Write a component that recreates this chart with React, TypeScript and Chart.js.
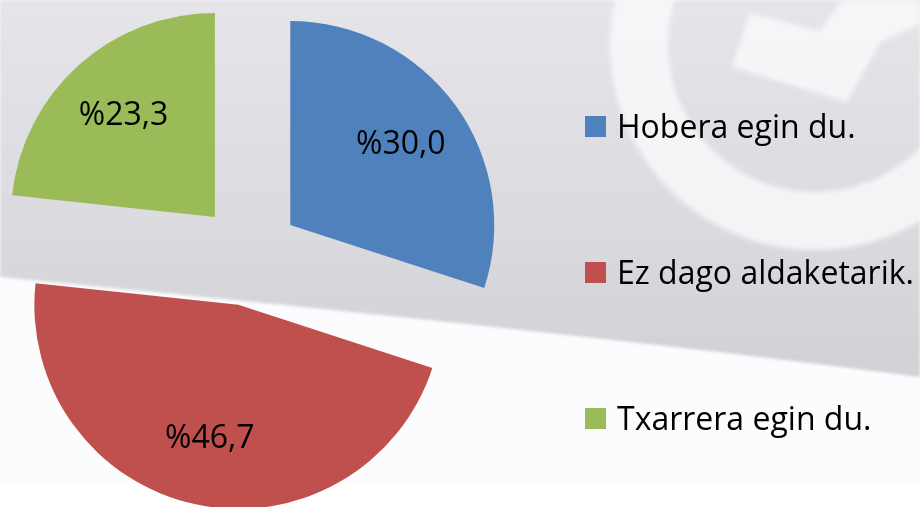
import React, { useEffect, useRef } from "react";
import { Chart, registerables, ArcElement, PieController } from "chart.js";

// ---- data ----
const categories = ["Hobera egin du.", "Ez dago aldaketarik.", "Txarrera egin du."];
const percentages = [30.0, 46.7, 23.3];
const sliceColors = ["#4f81bd", "#c0504d", "#9bbb59"];

// ---- styling ----
const FONT = "'Open Sans', sans-serif";
const PIE_RADIUS = 204;
const EXPLODE = 51; // px each slice is pulled out from the centre
const LABEL_RATIO = 0.67;

const formatPct = (v: number) => "%" + v.toFixed(1).replace(".", ",");

// Arc that is pulled out by a fixed distance along its mid angle, without
// Chart.js' built-in radius growth of the "offset" option.
class ExplodedArc extends ArcElement {
  static id = "explodedArc";
  static defaults = { ...(ArcElement as any).defaults, explode: 0 };
  draw(ctx: CanvasRenderingContext2D) {
    const self: any = this;
    const explode = self.options.explode || 0;
    const half = (self.startAngle + self.endAngle) / 2;
    ctx.save();
    ctx.translate(Math.cos(half) * explode, Math.sin(half) * explode);
    super.draw(ctx);
    ctx.restore();
  }
}

class ExplodedPieController extends PieController {
  static id = "explodedPie";
  static defaults = { ...(PieController as any).defaults, dataElementType: "explodedArc" };
}

Chart.register(...registerables, ExplodedArc as any, ExplodedPieController as any);

const sliceLabels = {
  id: "sliceLabels",
  afterDatasetsDraw(chart: any) {
    const ctx = chart.ctx;
    const meta = chart.getDatasetMeta(0);
    const data = chart.data.datasets[0].data as number[];
    ctx.save();
    ctx.font = `32px ${FONT}`;
    ctx.fillStyle = "#000000";
    ctx.textAlign = "center";
    ctx.textBaseline = "middle";
    meta.data.forEach((arc: any, i: number) => {
      const { x, y, startAngle, endAngle, outerRadius } = arc.getProps(
        ["x", "y", "startAngle", "endAngle", "outerRadius"],
        true
      );
      const mid = (startAngle + endAngle) / 2;
      const d = (arc.options.explode || 0) + outerRadius * LABEL_RATIO;
      ctx.fillText(formatPct(data[i]), x + Math.cos(mid) * d, y + Math.sin(mid) * d);
    });
    ctx.restore();
  },
};

function PieChart() {
  const ref = useRef<HTMLCanvasElement | null>(null);
  useEffect(() => {
    if (!ref.current) return;
    const chart = new Chart(ref.current, {
      type: "explodedPie" as any,
      data: {
        labels: categories,
        datasets: [
          {
            data: percentages,
            backgroundColor: sliceColors,
            borderWidth: 0,
            radius: PIE_RADIUS,
            clip: false,
            explode: EXPLODE,
          } as any,
        ],
      },
      options: {
        animation: false,
        responsive: false,
        events: [],
        layout: { padding: { left: 0, right: 422, top: 3, bottom: 0 } },
        plugins: { legend: { display: false }, tooltip: { enabled: false } },
      } as any,
      plugins: [sliceLabels],
    });
    return () => chart.destroy();
  }, []);
  return (
    <canvas
      ref={ref}
      width={920}
      height={507}
      style={{ position: "absolute", left: 0, top: 0, width: 920, height: 507 }}
    />
  );
}

function Background() {
  return (
    <svg width={920} height={507} style={{ position: "absolute", left: 0, top: 0 }}>
      <defs>
        <linearGradient id="bgGray" gradientUnits="userSpaceOnUse" x1="0" y1="0" x2="0" y2="380">
          <stop offset="0" stopColor="#e5e4e9" />
          <stop offset="0.55" stopColor="#dcdbe0" />
          <stop offset="1" stopColor="#d1d0d4" />
        </linearGradient>
        <filter id="soft" x="-10%" y="-10%" width="120%" height="120%">
          <feGaussianBlur stdDeviation="2.5" />
        </filter>
        <filter id="edge">
          <feGaussianBlur stdDeviation="1.5" />
        </filter>
      </defs>
      <rect x={0} y={0} width={920} height={507} fill="#fcfbfd" />
      <rect x={0} y={483} width={920} height={24} fill="#ffffff" />
      <path d="M0 0 H920 V377 Q 600 335 0 277 Z" fill="url(#bgGray)" filter="url(#edge)" />
      <g filter="url(#soft)" fill="#fafafc" opacity={0.82}>
        <path
          fillRule="evenodd"
          d="M 610 45 A 205 205 0 1 0 1020 45 A 205 205 0 1 0 610 45 Z M 668 45 A 147 147 0 1 1 962 45 A 147 147 0 1 1 668 45 Z"
        />
        <polygon points="750,13 820,31 842,0 920,0 920,24 880,42 847,102 732,67" />
      </g>
    </svg>
  );
}

function Legend() {
  return (
    <div style={{ position: "absolute", left: 585, top: 110 }}>
      {categories.map((c, i) => (
        <div
          key={c}
          style={{
            display: "flex",
            alignItems: "center",
            height: 32,
            marginBottom: i < categories.length - 1 ? 114 : 0,
          }}
        >
          <span
            style={{
              display: "inline-block",
              width: 21,
              height: 21,
              background: sliceColors[i],
              marginRight: 11,
              flex: "none",
            }}
          />
          <span
            style={{
              fontFamily: FONT,
              fontSize: 32,
              lineHeight: "32px",
              color: "#000000",
              whiteSpace: "nowrap",
            }}
          >
            {c}
          </span>
        </div>
      ))}
    </div>
  );
}

export default function App() {
  return (
    <div
      style={{
        position: "absolute",
        left: 0,
        top: 0,
        width: 920,
        height: 507,
        overflow: "hidden",
        fontFamily: FONT,
      }}
    >
      <Background />
      <PieChart />
      <Legend />
    </div>
  );
}
